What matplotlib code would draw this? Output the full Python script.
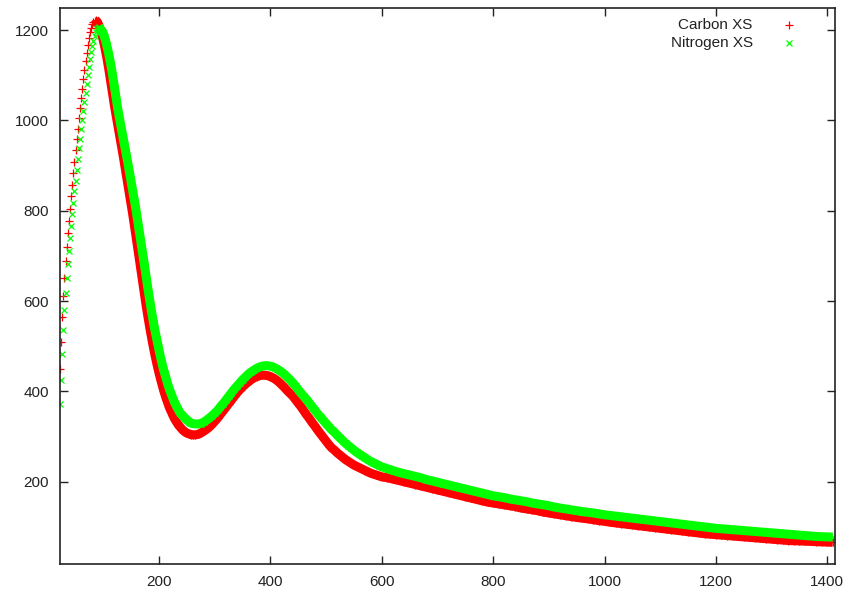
import matplotlib
matplotlib.use("Agg")
import matplotlib.pyplot as plt

plt.rcParams['font.family'] = ['Liberation Sans', 'DejaVu Sans']

# x grid (uniform energy steps, three blocks)
x_peak = list(range(22, 262, 2))
x_mid = list(range(265, 605, 5))
x_tail = list(range(610, 1420, 10))

# Carbon XS
carbon_peak = [
    450, 510, 565, 612, 652, 688, 720, 750, 778, 805,
    832, 858, 884, 909, 934, 958, 982, 1005, 1027, 1049,
    1070, 1091, 1111, 1131, 1150, 1167, 1182, 1195, 1205, 1213,
    1218, 1221, 1222, 1220, 1216, 1210, 1203, 1195, 1186, 1176,
    1165, 1153, 1140, 1126, 1111, 1095, 1079, 1062, 1046, 1031,
    1017, 1003, 989, 975, 961, 947, 933, 918, 903, 888,
    873, 858, 843, 828, 813, 797, 781, 765, 748, 731,
    714, 697, 680, 663, 646, 629, 612, 596, 580, 565,
    550, 536, 522, 509, 496, 484, 472, 461, 450, 440,
    430, 421, 412, 403, 395, 387, 380, 373, 366, 360,
    355, 349, 344, 339, 335, 331, 327, 324, 321, 318,
    315, 313, 311, 309, 308, 307, 306, 305, 304, 304,
]
carbon_mid = [
    304, 305, 308, 312, 316, 321, 327, 334, 341, 349,
    357, 365, 373, 381, 389, 397, 404, 410, 416, 421,
    426, 430, 433, 435, 436, 436, 435, 433, 430, 426,
    421, 415, 409, 402, 396, 390, 382, 374, 366, 357,
    348, 340, 331, 323, 314, 306, 298, 290, 282, 275,
    270, 264, 259, 254, 249, 245, 241, 237, 234, 231,
    228, 225, 222, 219, 217, 215, 213, 211,
]
carbon_tail = [
    209, 206, 203, 200, 197, 194, 191, 188, 185, 182,
    179, 176, 173, 170, 167, 164, 161, 158, 155, 153,
    151, 149, 147, 145, 142, 140, 138, 136, 133, 131,
    129, 127, 125, 123, 121, 119.5, 118, 116, 114, 112.5,
    110.5, 109, 107.5, 106, 104.5, 103, 101.5, 100, 98.5, 97,
    95.5, 94, 92.5, 91, 89.5, 88, 86.5, 85, 84, 83,
    82, 81, 80, 79, 78, 77, 76, 75, 74, 73,
    72, 71, 70, 69.5, 69, 68.5, 68, 67.5, 67, 66.5,
    66,
]

# Nitrogen XS
nitrogen_peak = [
    372, 425, 482, 535, 580, 618, 652, 683, 712, 740,
    767, 793, 818, 843, 867, 891, 915, 938, 960, 981,
    1001, 1021, 1041, 1061, 1081, 1100, 1118, 1135, 1151, 1165,
    1177, 1188, 1196, 1202, 1205, 1206, 1204, 1199, 1198, 1192,
    1184, 1176, 1166, 1156, 1144, 1132, 1118, 1104, 1088, 1072,
    1056, 1039, 1024, 1010, 997, 984, 971, 958, 945, 932,
    919, 905, 891, 877, 863, 849, 835, 820, 806, 790,
    775, 759, 743, 726, 710, 693, 677, 660, 644, 627,
    611, 595, 580, 566, 552, 538, 526, 513, 501, 489,
    479, 468, 458, 448, 440, 431, 423, 414, 407, 400,
    394, 387, 381, 375, 370, 365, 361, 356, 352, 349,
    347, 344, 341, 339, 337, 335, 333, 331, 330, 329,
]
nitrogen_mid = [
    328, 328, 329, 332, 336, 341, 346, 352, 358, 366,
    373, 381, 389, 397, 405, 412, 419, 426, 432, 438,
    443, 447, 451, 454, 456, 457, 457, 456, 454, 451,
    447, 443, 438, 432, 426, 419, 412, 404, 396, 389,
    382, 374, 366, 358, 350, 343, 336, 329, 322, 315,
    310, 303, 297, 291, 285, 280, 275, 270, 265, 261,
    257, 253, 249, 245, 242, 239, 236, 233,
]
nitrogen_tail = [
    229, 225, 221, 218, 215, 212, 209, 205, 202, 199,
    196, 193, 190, 187, 184, 181, 178, 175, 172, 169,
    167, 165, 162, 160, 158, 156, 153, 151, 149, 147,
    144, 142, 140, 138, 136, 134, 132.5, 131, 129, 127,
    125.5, 124, 122.5, 121, 119.5, 118, 116.5, 115, 113.5, 112,
    110.5, 109, 107.5, 106, 104.5, 103, 101.5, 100, 98.5, 97,
    96, 95, 94, 93, 92, 91, 90, 89, 88, 87,
    86, 85, 84, 83, 82, 81, 80, 79, 78.5, 78,
    77.5,
]

x = x_peak + x_mid + x_tail
carbon = carbon_peak + carbon_mid + carbon_tail
nitrogen = nitrogen_peak + nitrogen_mid + nitrogen_tail

# after the first peak the points sit so close that they merge into a band
c0 = carbon.index(max(carbon))
n0 = nitrogen.index(max(nitrogen))

fig = plt.figure(figsize=(8.51, 5.96), dpi=100)
ax = fig.add_axes([60 / 851, 1 - 564 / 596, 775 / 851, 556 / 596])

red = '#ff0000'
green = '#00ff00'
ax.plot(x[c0:], carbon[c0:], color=red, lw=6.5,
        solid_capstyle='butt', solid_joinstyle='round')
ax.plot(x, carbon, linestyle='none', marker='+', color=red,
        markersize=5.5, markeredgewidth=0.9)
ax.plot(x[n0:], nitrogen[n0:], color=green, lw=6.5,
        solid_capstyle='butt', solid_joinstyle='round')
ax.plot(x, nitrogen, linestyle='none', marker='x', color=green,
        markersize=4.5, markeredgewidth=0.9)

ax.set_xlim(22, 1414)
ax.set_ylim(18, 1249)
ax.set_xticks([200, 400, 600, 800, 1000, 1200, 1400])
ax.set_yticks([200, 400, 600, 800, 1000, 1200])
ax.tick_params(direction='in', length=6, width=1, top=True, right=True,
               labelsize=11, colors='#222222', pad=8)
for s in ax.spines.values():
    s.set_linewidth(1.2)
    s.set_color('#222222')
    s.set_zorder(5)

# key, gnuplot style: right-aligned text, marker after it
ax.text(0.894, 0.969, 'Carbon XS', transform=ax.transAxes, ha='right',
        va='center', fontsize=11, color='#222222')
ax.text(0.894, 0.937, 'Nitrogen XS', transform=ax.transAxes, ha='right',
        va='center', fontsize=11, color='#222222')
ax.plot([0.941], [0.969], transform=ax.transAxes, marker='+',
        color=red, markersize=5.5, markeredgewidth=0.9)
ax.plot([0.941], [0.937], transform=ax.transAxes, marker='x',
        color=green, markersize=4.5, markeredgewidth=0.9)

fig.savefig('out.png', dpi=100)
